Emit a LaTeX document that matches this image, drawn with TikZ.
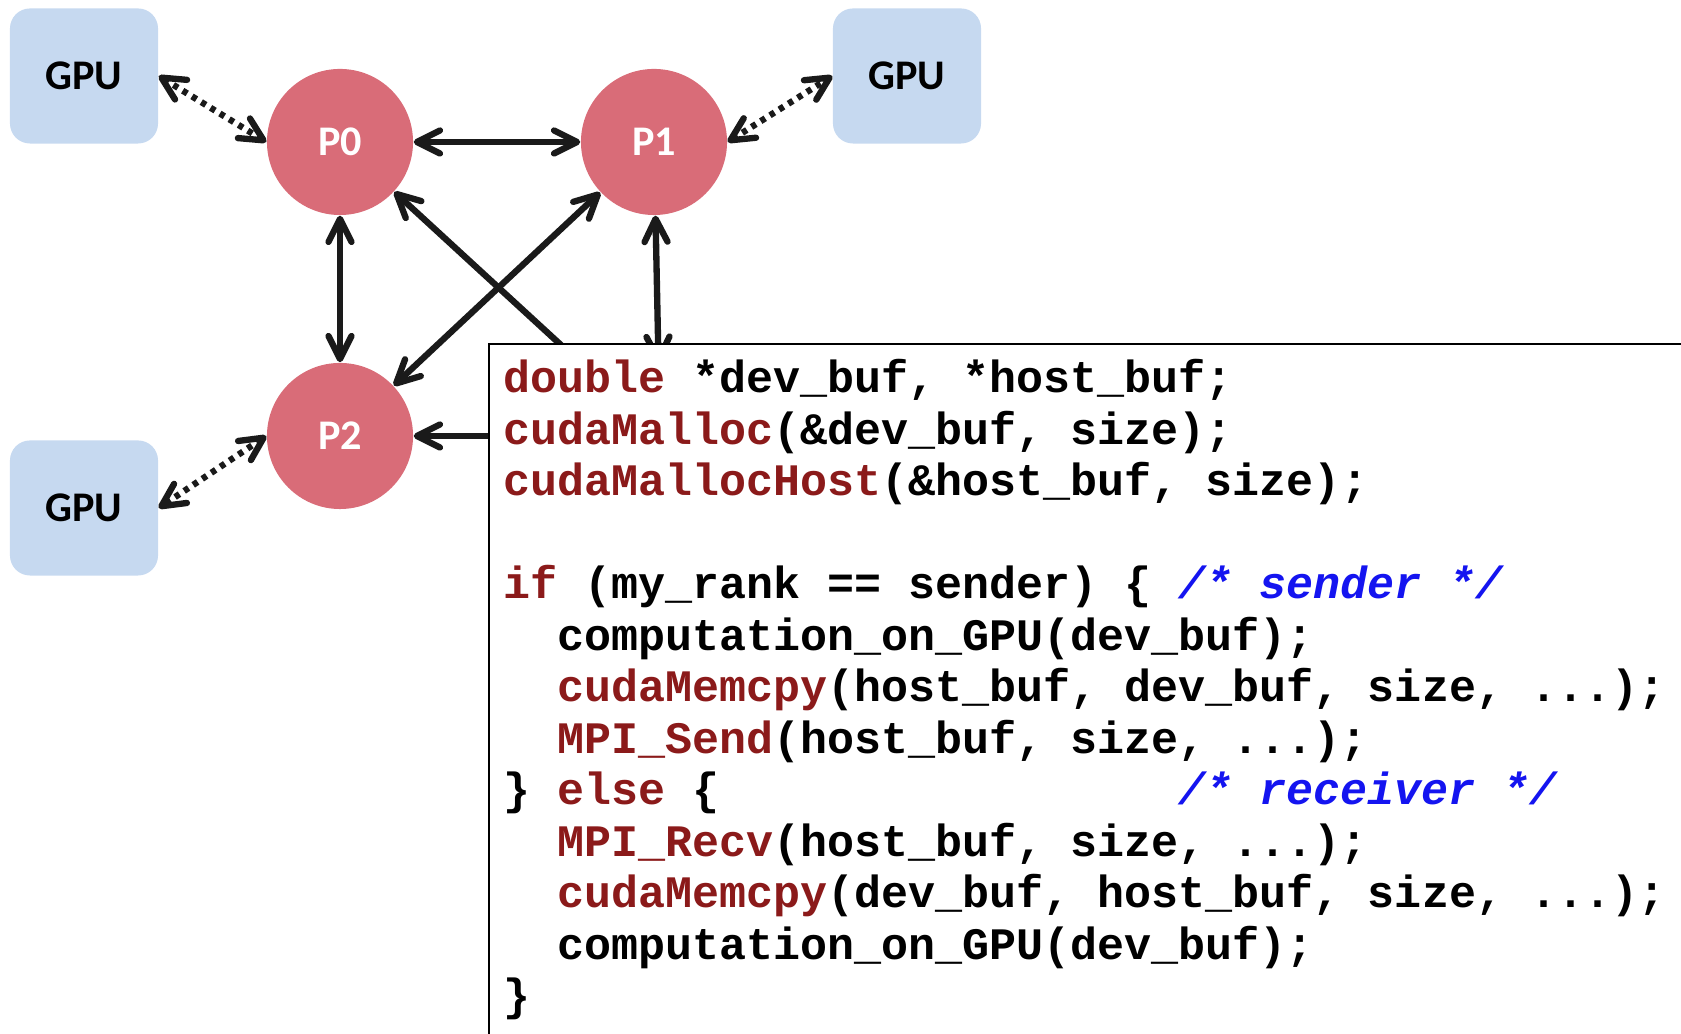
\documentclass[tikz,border=0pt]{standalone}
\usepackage{fontspec}
\newfontfamily\labelfont{Carlito}
\newfontfamily\codefont{Liberation Mono}
\usetikzlibrary{arrows.meta}

\definecolor{gpublue}{RGB}{198,217,240}
\definecolor{procred}{RGB}{217,108,120}
\definecolor{kwred}{RGB}{139,26,26}
\definecolor{cmtblue}{RGB}{20,20,240}
\newcommand{\kw}[1]{\textcolor{kwred}{#1}}
\newcommand{\cmt}[1]{\textcolor{cmtblue}{\itshape #1}}
\frenchspacing

\begin{document}
\begin{tikzpicture}[x=0.01cm,y=0.01cm,
  gpu/.style={rectangle,rounded corners=0.2cm,fill=gpublue,minimum width=1.48cm,minimum height=1.35cm,
    font=\labelfont\bfseries\fontsize{12}{14}\selectfont},
  proc/.style={circle,fill=procred,minimum size=1.46cm,inner sep=0pt,text=white,
    font=\labelfont\bfseries\fontsize{12}{14}\selectfont},
  link/.style={line width=1.8pt,draw={rgb,255:red,26;green,26;blue,26},<->,>={Straight Barb[length=2.3mm,width=2.3mm,round]}},
  gpulink/.style={link,dash pattern=on 1.5pt off 1.6pt},
  codeline/.style={anchor=base west,inner sep=0pt,font=\codefont\bfseries\fontsize{12.8}{15}\selectfont}]
\useasboundingbox (0,0) rectangle (1681,1034);

\node[gpu] (gpu0) at (84,958) {GPU};
\node[gpu] (gpu1) at (907,958) {GPU};
\node[gpu] (gpu2) at (84,526) {GPU};

\node[proc] (p0) at (340,892) {P0};
\node[proc] (p1) at (654,892) {P1};
\node[proc] (p2) at (340,598) {P2};
\coordinate (p3) at (660,598);

\draw[gpulink] (gpu0.east) -- (p0.west);
\draw[gpulink] (p1.east) -- (gpu1.west);
\draw[gpulink] (p2.west) -- (gpu2.east);

\draw[link] (p0.east) -- (p1.west);
\draw[link] (p0.south) -- (p2.north);
\draw[link] (p1) -- (p2);
\draw[link] (p0) -- (p3);
\draw[link,shorten >=0.73cm] (p1) -- (p3);
\draw[link] (p2.east) -- (p3);

% code on top
\node[draw,fill=white,line width=0.6pt,anchor=north west,minimum width=12.4cm,minimum height=7.2cm,inner sep=0pt] (codebox) at (488,691) {};

\node[codeline] (ln0) at (503,641) {\kw{double} *dev\_buf, *host\_buf;};
\node[codeline] (ln1) at (503,589.5) {\kw{cudaMalloc}(\&dev\_buf, size);};
\node[codeline] (ln2) at (503,538) {\kw{cudaMallocHost}(\&host\_buf, size);};
\node[codeline] (ln4) at (503,435) {\kw{if} (my\_rank == sender) \{};
\node[codeline] (cmt4) at (1178,435) {\cmt{/* sender */}};
\node[codeline] (ln5) at (557,383.5) {computation\_on\_GPU(dev\_buf);};
\node[codeline] (ln6) at (557,332) {\kw{cudaMemcpy}(host\_buf, dev\_buf, size, ...);};
\node[codeline] (ln7) at (557,280.5) {\kw{MPI\_Send}(host\_buf, size, ...);};
\node[codeline] (ln8) at (503,229) {\} \kw{else} \{};
\node[codeline] (cmt8) at (1178,229) {\cmt{/* receiver */}};
\node[codeline] (ln9) at (557,177.5) {\kw{MPI\_Recv}(host\_buf, size, ...);};
\node[codeline] (ln10) at (557,126) {\kw{cudaMemcpy}(dev\_buf, host\_buf, size, ...);};
\node[codeline] (ln11) at (557,74.5) {computation\_on\_GPU(dev\_buf);};
\node[codeline] (ln12) at (503,23) {\}};
\end{tikzpicture}
\end{document}
